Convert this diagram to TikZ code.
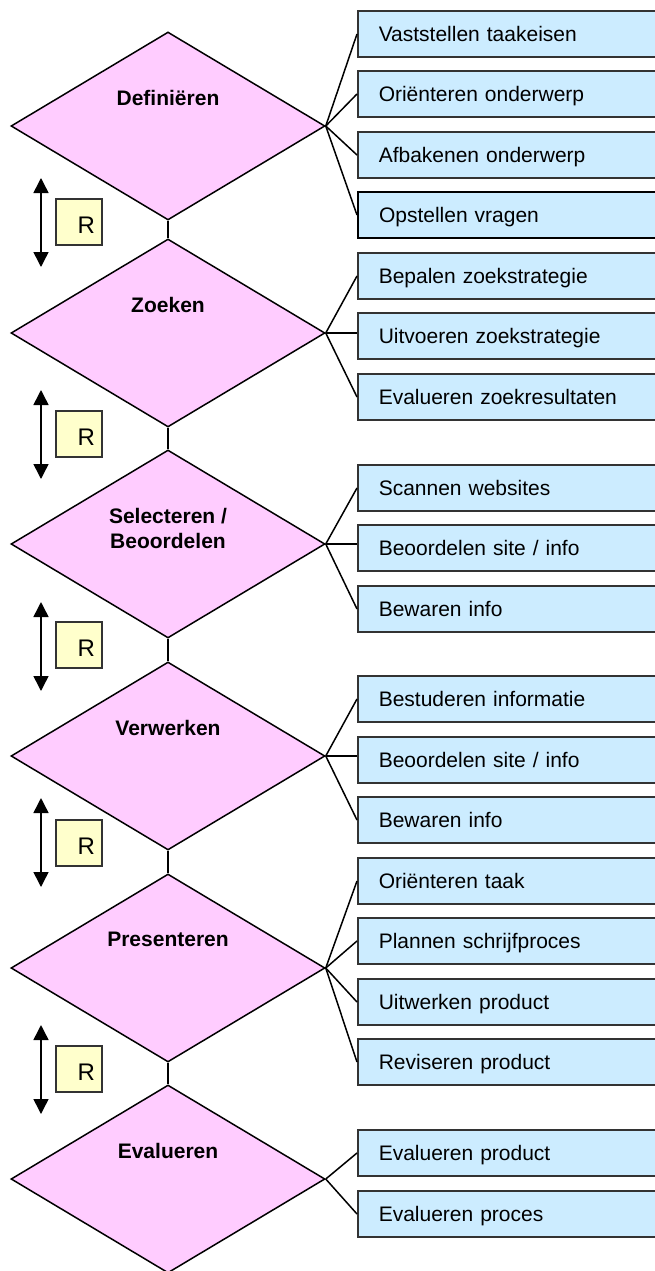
\documentclass[tikz,border=0pt]{standalone}
\usepackage{fontspec}
\setmainfont{Liberation Sans}
\usetikzlibrary{shapes.geometric,arrows.meta}

\definecolor{faseroze}{HTML}{FFCCFF}
\definecolor{stapblauw}{HTML}{CCECFF}
\definecolor{rgeel}{HTML}{FFFFCC}

\tikzset{
  fase/.style={diamond, draw=black, fill=faseroze, line width=1.5pt,
    minimum width=314pt, minimum height=188pt, inner sep=0pt},
  fasenaam/.style={anchor=north, inner sep=0pt, align=center,
    font=\fontsize{21}{25}\selectfont\bfseries},
  stap/.style={rectangle, draw=black!80, fill=stapblauw, line width=1.5pt,
    anchor=west, minimum height=46pt, text width=271pt, inner xsep=21pt,
    inner ysep=0pt, align=left, text height=15pt, text depth=0pt,
    font=\fontsize{21}{25}\selectfont},
  rvak/.style={rectangle, draw=black!80, fill=rgeel, line width=1.5pt,
    minimum height=46pt, text width=32pt, inner xsep=7pt, align=right,
    text height=22pt, text depth=0pt, font=\fontsize{24}{28}\selectfont},
  lijn/.style={line width=1.5pt},
  heenweer/.style={line width=1.5pt,
    {Triangle[width=15pt,length=15pt]}-{Triangle[width=15pt,length=15pt]}}
}

\begin{document}
\begin{tikzpicture}[x=1pt,y=-1pt]
    \useasboundingbox (0,0) rectangle (655,1271);

    % Fases
    \node[fase] (d1) at (168,126) {};
    \node[fase] (d2) at (168,333) {};
    \node[fase] (d3) at (168,544) {};
    \node[fase] (d4) at (168,756) {};
    \node[fase] (d5) at (168,968) {};
    \node[fase] (d6) at (168,1179) {};
    \node[fasenaam] (n1) at ([yshift=36pt]d1.center) {Definiëren};
    \node[fasenaam] (n2) at ([yshift=36pt]d2.center) {Zoeken};
    \node[fasenaam] (n3) at ([yshift=36pt]d3.center) {Selecteren /\\Beoordelen};
    \node[fasenaam] (n4) at ([yshift=36pt]d4.center) {Verwerken};
    \node[fasenaam] (n5) at ([yshift=36pt]d5.center) {Presenteren};
    \node[fasenaam] (n6) at ([yshift=36pt]d6.center) {Evalueren};
    \foreach \a/\b in {d1/d2,d2/d3,d3/d4,d4/d5,d5/d6}
        \draw[lijn] (\a.south) -- (\b.north);

    % Stappen
    \node[stap] (s11) at (357,34) {Vaststellen taakeisen};
    \node[stap] (s12) at (357,94) {Oriënteren onderwerp};
    \node[stap] (s13) at (357,155) {Afbakenen onderwerp};
    \node[stap, draw=black, line width=2pt] (s14) at (357,215) {Opstellen vragen};
    \node[stap] (s21) at (357,276) {Bepalen zoekstrategie};
    \node[stap] (s22) at (357,336) {Uitvoeren zoekstrategie};
    \node[stap] (s23) at (357,397) {Evalueren zoekresultaten};
    \node[stap] (s31) at (357,488) {Scannen websites};
    \node[stap] (s32) at (357,548) {Beoordelen site / info};
    \node[stap] (s33) at (357,609) {Bewaren info};
    \node[stap] (s41) at (357,699) {Bestuderen informatie};
    \node[stap] (s42) at (357,760) {Beoordelen site / info};
    \node[stap] (s43) at (357,820) {Bewaren info};
    \node[stap] (s51) at (357,881) {Oriënteren taak};
    \node[stap] (s52) at (357,941) {Plannen schrijfproces};
    \node[stap] (s53) at (357,1002) {Uitwerken product};
    \node[stap] (s54) at (357,1062) {Reviseren product};
    \node[stap] (s61) at (357,1153) {Evalueren product};
    \node[stap] (s62) at (357,1214) {Evalueren proces};
    \foreach \d/\s in {d1/s11,d1/s12,d1/s13,d1/s14,d2/s21,d2/s23,d3/s31,d3/s33,
                       d4/s41,d4/s43,d5/s51,d5/s52,d5/s53,d5/s54,d6/s61,d6/s62}
        \draw[lijn] (\d.east) -- (\s.west);
    \foreach \d/\s in {d2/s22,d3/s32,d4/s42}
        \draw[lijn] (\d.east) -- (\d.east -| \s.west);

    % Terugkoppeling
    \node[rvak] (r1) at (79,222) {R};
    \node[rvak] (r2) at (79,434) {R};
    \node[rvak] (r3) at (79,645) {R};
    \node[rvak] (r4) at (79,843) {R};
    \node[rvak] (r5) at (79,1069) {R};
    \coordinate (p1) at (41,178);  \coordinate (q1) at (41,267);
    \coordinate (p2) at (41,390);  \coordinate (q2) at (41,479);
    \coordinate (p3) at (41,602);  \coordinate (q3) at (41,691);
    \coordinate (p4) at (41,798);  \coordinate (q4) at (41,887);
    \coordinate (p5) at (41,1025); \coordinate (q5) at (41,1114);
    \foreach \i in {1,...,5}
        \draw[heenweer] (p\i) -- (q\i);
\end{tikzpicture}
\end{document}
